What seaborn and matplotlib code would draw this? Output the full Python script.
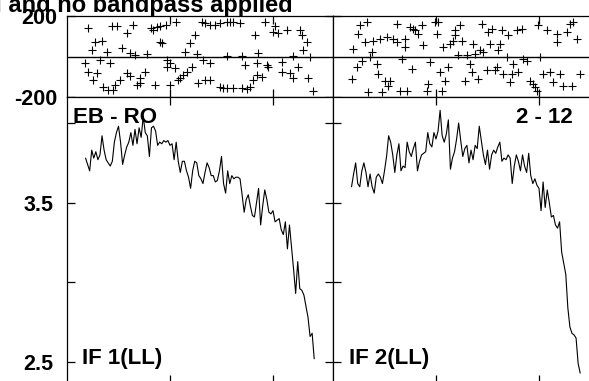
import numpy as np
import pandas as pd
import matplotlib
matplotlib.use("Agg")
import matplotlib.pyplot as plt
import seaborn as sns

# ---------------- data ----------------
channels = list(range(9, 121))

amp_if1 = [3.78, 3.74, 3.70, 3.83, 3.78, 3.82, 3.77, 3.80, 3.92, 3.83,
           3.77, 3.75, 3.73, 3.76, 3.88, 3.94, 3.98, 3.88, 3.74, 3.80,
           3.85, 3.88, 3.94, 3.86, 3.96, 3.87, 3.97, 3.91, 4.04, 3.94,
           3.92, 3.79, 3.97, 3.98, 3.95, 3.86, 3.88, 3.87, 3.89, 3.88,
           3.89, 3.86, 3.87, 3.77, 3.88, 3.76, 3.69, 3.76, 3.76, 3.70,
           3.66, 3.59, 3.70, 3.76, 3.75, 3.67, 3.65, 3.62, 3.69, 3.75,
           3.72, 3.67, 3.67, 3.63, 3.64, 3.70, 3.79, 3.62, 3.56, 3.70,
           3.62, 3.67, 3.65, 3.66, 3.66, 3.65, 3.55, 3.44, 3.52, 3.55,
           3.48, 3.42, 3.41, 3.50, 3.59, 3.36, 3.48, 3.58, 3.52, 3.44,
           3.43, 3.45, 3.38, 3.39, 3.40, 3.33, 3.30, 3.38, 3.21, 3.36,
           3.22, 3.08, 2.93, 3.13, 2.96, 2.95, 2.92, 2.85, 2.78, 2.66,
           2.68, 2.52]

amp_if2 = [3.60, 3.68, 3.75, 3.62, 3.60, 3.70, 3.75, 3.69, 3.60, 3.68,
           3.60, 3.56, 3.66, 3.68, 3.66, 3.62, 3.70, 3.79, 3.92, 3.88,
           3.80, 3.69, 3.80, 3.87, 3.70, 3.73, 3.72, 3.88, 3.82, 3.79,
           3.84, 3.88, 3.70, 3.76, 3.80, 3.81, 3.82, 3.94, 3.87, 3.85,
           3.94, 3.90, 3.95, 4.08, 3.92, 3.88, 3.93, 4.02, 3.71, 3.78,
           3.82, 3.90, 4.00, 3.89, 3.79, 3.84, 3.86, 3.75, 3.83, 3.77,
           3.86, 3.84, 3.98, 3.89, 3.80, 3.74, 3.83, 3.71, 3.80, 3.83,
           3.81, 3.85, 3.88, 3.76, 3.78, 3.77, 3.80, 3.78, 3.62, 3.73,
           3.80, 3.76, 3.70, 3.80, 3.73, 3.69, 3.81, 3.67, 3.62, 3.65,
           3.61, 3.59, 3.45, 3.63, 3.47, 3.58, 3.50, 3.41, 3.42, 3.36,
           3.34, 3.38, 3.19, 3.12, 3.05, 2.84, 2.72, 2.68, 2.67, 2.65,
           2.49, 2.43]

phase_ch_if1 = [8.7, 10.4, 10.4, 12.0, 12.8, 13.6, 14.4, 16.0, 16.8, 17.6,
                19.3, 20.1, 20.9, 21.7, 22.5, 23.3, 24.1, 25.7, 26.5, 29.0,
                29.0, 30.6, 30.6, 32.2, 33.0, 33.8, 35.4, 35.4, 37.9, 38.7,
                40.6, 41.6, 42.7, 43.5, 45.1, 45.9, 45.1, 48.1, 48.4, 48.4,
                50.0, 50.0, 52.4, 52.9, 54.0, 54.9, 56.5, 57.3, 58.1, 59.7,
                60.5, 62.1, 63.0, 63.8, 65.4, 66.2, 67.0, 67.0, 69.4, 69.4,
                69.4, 71.8, 74.3, 74.3, 75.9, 77.5, 77.5, 77.5, 79.1, 80.7,
                80.7, 84.0, 84.8, 84.8, 86.4, 87.2, 88.8, 90.5, 91.3, 92.1,
                92.1, 92.9, 94.5, 96.1, 96.9, 97.7, 100.2, 101.0, 102.6, 104.2,
                104.2, 106.6, 108.3, 109.9, 109.9, 112.3, 113.1, 113.9, 114.7, 116.3,
                117.2, 118.0, 119.6]
phase_if1 = [-34, 139, -75, 32, -116, 70, -83, -17, 77, -149,
             24, -165, -34, 152, -165, -141, 152, -116, 40, 114,
             -83, -96, 16, 156, 7, -141, -108, -132, -75, 11,
             139, 131, -141, 147, 73, 65, 152, 156, -17, -50,
             -34, -141, -58, 172, -116, -108, -91, 24, -75, 65,
             -53, 106, 11, -132, 172, -17, 164, -116, 156, -34,
             -116, 156, 167, -152, -154, 172, 4, -154, 172, 172,
             -157, 164, 4, -157, -42, -160, -152, -116, 106, -34,
             -91, 16, -100, 172, -42, -50, 123, 151, 114, -26,
             -75, 131, -83, 2, -108, -50, 131, 106, 32, 73,
             -108, -1, -172]

phase_ch_if2 = [9.1, 9.9, 11.5, 12.3, 13.1, 13.9, 15.5, 16.3, 17.2, 18.0,
                18.8, 19.6, 21.2, 22.0, 22.8, 23.6, 25.2, 26.1, 26.9, 27.7,
                29.3, 30.9, 30.9, 32.5, 33.3, 35.0, 35.8, 35.0, 37.4, 38.2,
                39.0, 39.8, 41.4, 43.0, 43.9, 45.5, 46.3, 47.1, 49.5, 50.3,
                51.1, 52.0, 52.8, 53.6, 54.4, 56.0, 56.8, 58.4, 59.2, 59.2,
                60.8, 61.6, 62.4, 64.1, 64.9, 66.5, 67.3, 68.1, 68.9, 70.5,
                71.3, 72.2, 73.0, 74.6, 75.4, 76.2, 77.0, 78.6, 79.4, 80.3,
                81.1, 81.9, 82.7, 84.3, 85.1, 85.9, 86.7, 87.5, 89.2, 90.0,
                91.6, 92.4, 94.0, 95.6, 97.2, 98.1, 98.9, 99.7, 100.5, 102.1,
                103.7, 105.3, 107.0, 108.6, 108.6, 110.0, 111.8, 113.4, 115.0, 115.9,
                116.7, 118.3, 119.9]
phase_if2 = [-111, 38, -53, 112, 154, -20, 71, 170, -177, -3,
             21, 79, -36, -86, 88, -177, -119, 96, -144, -119,
             88, 162, 71, -169, -12, 46, -169, 88, 145, -61,
             137, 129, 112, 154, 55, -169, -136, -28, 170, 112,
             170, -78, -169, 46, -119, -53, 63, 79, 129, 104,
             5, 154, 79, -119, 5, -36, -78, 63, 13, -111,
             30, 162, 21, -69, 121, 63, 137, -69, -53, 30,
             63, 129, -86, -3, 104, -127, -86, -36, 129, -78,
             137, -12, -20, -119, -136, -152, -169, 154, -3, -86,
             129, -78, -127, 112, 71, -86, -144, 121, 162, -144,
             170, 88, -86]

x_ticks = [50, 100]
phase_ticks = [-200, 200]
phase_ticklabels = ["-200", "200"]
amp_ticks = [2.5, 3.0, 3.5, 4.0]
amp_ticklabels = ["2.5", "", "3.5", ""]

title_text = "No calibration applied and no bandpass applied"
baseline_label = ["EB - RO", "2 - 12"]
if_labels = ["IF 1(LL)", "IF 2(LL)"]

# ---------------- style ----------------
sns.set_style("ticks")
plt.rcParams['font.family'] = ['Liberation Sans', 'DejaVu Sans']
plt.rcParams['font.weight'] = 'bold'

W, H = 589, 381
fig = plt.figure(figsize=(W / 100, H / 100), dpi=100)

def fx(px):
    return px / W

def fy(py):
    return 1 - py / H

panel_w = 266
lefts = [67, 333]
ph_top, ph_bot = 16, 97
amp_bot = 383

xlim = (0, panel_w / 2.06)

amps = [amp_if1, amp_if2]
ph_ch = [phase_ch_if1, phase_ch_if2]
phs = [phase_if1, phase_if2]

for i, lp in enumerate(lefts):
    axp = fig.add_axes([fx(lp), fy(ph_bot), fx(panel_w), (ph_bot - ph_top) / H])
    axa = fig.add_axes([fx(lp), fy(amp_bot), fx(panel_w), (amp_bot - ph_bot) / H])

    dfp = pd.DataFrame({"ch": ph_ch[i], "phase": phs[i]})
    sns.scatterplot(data=dfp, x="ch", y="phase", ax=axp, marker="+",
                    color="black", s=36, linewidth=0.8, legend=False)
    axp.axhline(0, color="black", lw=1.0)
    axp.set_xlim(*xlim)
    axp.set_ylim(-200, 200)

    dfa = pd.DataFrame({"ch": channels, "amp": amps[i]})
    sns.lineplot(data=dfa, x="ch", y="amp", ax=axa, color="black", lw=0.8)
    axa.set_xlim(*xlim)
    axa.set_ylim(2.5 - (amp_bot - 362) / 159, 4.0 + 26 / 159)

    for ax in (axp, axa):
        ax.set_xlabel("")
        ax.set_ylabel("")
        ax.set_xticks(x_ticks)
        ax.set_xticklabels([])
        for sp in ax.spines.values():
            sp.set_visible(True)
            sp.set_color("black")
            sp.set_linewidth(0.9)
        ax.tick_params(axis="both", direction="in", top=True, right=True,
                       left=True, bottom=True, length=6, width=0.9,
                       color="black", labelsize=15.5, labelcolor="black")
    axp.set_yticks(phase_ticks)
    axa.set_yticks(amp_ticks)
    if i == 0:
        axp.set_yticklabels(phase_ticklabels, fontweight="bold")
        axa.set_yticklabels(amp_ticklabels, fontweight="bold")
        axp.tick_params(axis="y", pad=7)
        axa.tick_params(axis="y", pad=10)
    else:
        axp.set_yticklabels([])
        axa.set_yticklabels([])

fig.text(fx(293), fy(12), title_text, ha="right", va="baseline",
         fontsize=17, fontweight="bold", color="black")
fig.text(fx(73), fy(123), baseline_label[0], ha="left", va="baseline",
         fontsize=16, fontweight="bold", color="black")
fig.text(fx(573), fy(123), baseline_label[1], ha="right", va="baseline",
         fontsize=16, fontweight="bold", color="black")
fig.text(fx(82), fy(364), if_labels[0], ha="left", va="baseline",
         fontsize=16, fontweight="bold", color="black")
fig.text(fx(349), fy(364), if_labels[1], ha="left", va="baseline",
         fontsize=16, fontweight="bold", color="black")

fig.savefig("out.png", dpi=100)
